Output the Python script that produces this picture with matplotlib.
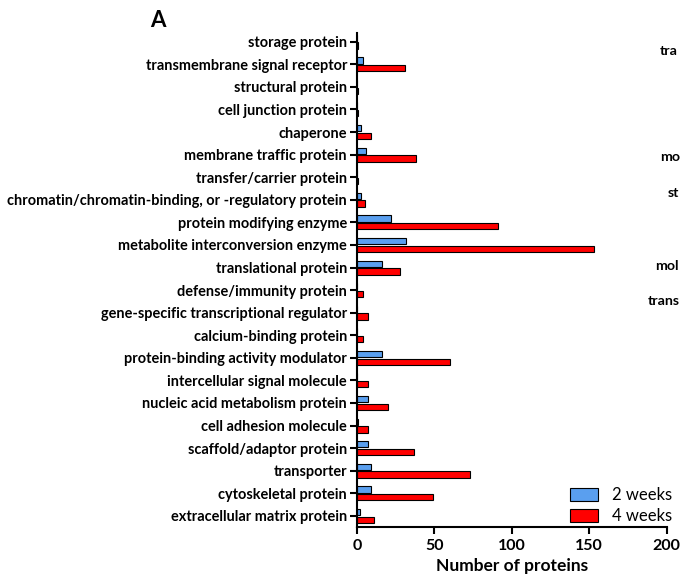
import matplotlib.pyplot as plt
import numpy as np

plt.rcParams['font.family'] = ['Lato', 'DejaVu Sans']

# categories listed bottom to top
categories = [
    'extracellular matrix protein', 'cytoskeletal protein', 'transporter',
    'scaffold/adaptor protein', 'cell adhesion molecule',
    'nucleic acid metabolism protein', 'intercellular signal molecule',
    'protein-binding activity modulator', 'calcium-binding protein',
    'gene-specific transcriptional regulator', 'defense/immunity protein',
    'translational protein', 'metabolite interconversion enzyme',
    'protein modifying enzyme',
    'chromatin/chromatin-binding, or -regulatory protein',
    'transfer/carrier protein', 'membrane traffic protein', 'chaperone',
    'cell junction protein', 'structural protein',
    'transmembrane signal receptor', 'storage protein',
]
weeks2 = [2, 9, 9, 7, 0.5, 7, 0, 16, 0, 0, 0, 16, 32, 22, 3, 0, 6, 3, 0, 0, 4, 0]
weeks4 = [11, 49, 73, 37, 7, 20, 7, 60, 4, 7, 4, 28, 153, 91, 5, 0.5, 38, 9, 0.5, 0.5, 31, 0.5]

# partial labels of the neighbouring panel, cut by the figure edge
side_labels = ['tra', 'mo', 'st', 'mol', 'trans']

fig = plt.figure(figsize=(6.81, 5.74), dpi=100)
ax = fig.add_axes([0.524, 0.082, 0.455, 0.861])

y = np.arange(len(categories))
h = 0.28
ax.barh(y + 0.17, weeks2, height=h, color='#5a9fef', edgecolor='black',
        linewidth=0.8, label='2 weeks')
ax.barh(y - 0.17, weeks4, height=h, color='#ff0000', edgecolor='black',
        linewidth=0.8, label='4 weeks')

ax.set_xlim(0, 200)
ax.set_ylim(-0.49, 21.4)
ax.set_xticks([0, 50, 100, 150, 200])
ax.set_yticks(y)
ax.set_yticklabels(categories, fontweight='bold', fontsize=10.45)
for lab in ax.get_xticklabels():
    lab.set_fontweight('bold')
    lab.set_fontsize(11.5)
ax.tick_params(axis='y', length=5, width=1.5, pad=2)
ax.tick_params(axis='x', length=5, width=1.5)
ax.spines['top'].set_visible(False)
ax.spines['right'].set_visible(False)
ax.spines['left'].set_linewidth(1.5)
ax.spines['bottom'].set_linewidth(1.5)
ax.set_xlabel('Number of proteins', fontweight='bold', fontsize=12.5, labelpad=4)

ax.legend(loc='lower right', bbox_to_anchor=(1.065, -0.025), frameon=False,
          fontsize=12, handlelength=1.7, handleheight=0.9, labelspacing=0.3)

fig.text(0.22, 0.965, 'A', fontsize=16, fontweight='bold', va='center')

side_pos = [(0.969, 0.912), (0.969, 0.726), (0.981, 0.663), (0.962, 0.537), (0.951, 0.476)]
for lab, (sx, sy) in zip(side_labels, side_pos):
    fig.text(sx, sy, lab, fontsize=10.2, fontweight='bold', va='center')

fig.savefig('out.png', dpi=100)
